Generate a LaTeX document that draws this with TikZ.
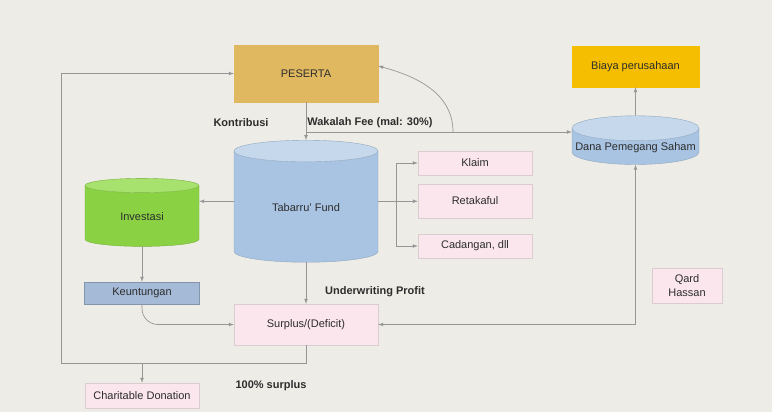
\documentclass[tikz,border=0pt]{standalone}
\usepackage{fontspec}
\setmainfont{Liberation Sans}
\usetikzlibrary{shapes.geometric,positioning}

\definecolor{kertas}{RGB}{238,236,230}
\definecolor{oranye}{RGB}{224,184,96}
\definecolor{kuning}{RGB}{246,190,0}
\definecolor{biru}{RGB}{168,196,226}
\definecolor{birumuda}{RGB}{198,216,236}
\definecolor{hijau}{RGB}{138,210,68}
\definecolor{hijaumuda}{RGB}{168,226,110}
\definecolor{baja}{RGB}{164,186,214}
\definecolor{merahmuda}{RGB}{250,230,236}
\definecolor{garis}{RGB}{150,150,150}
\definecolor{teks}{RGB}{45,45,45}

\begin{document}
\begin{tikzpicture}[x=1pt, y=-1pt, node distance=100pt,
    block/.style={rectangle, draw, text centered, inner sep=2pt, text=teks, font=\fontsize{11}{14}\selectfont, minimum width=144pt, minimum height=41pt},
    pink/.style={block, draw=merahmuda!75!gray, fill=merahmuda},
    tank/.style={cylinder, shape border rotate=90, aspect=0.3, draw, inner sep=2pt, text=teks, font=\fontsize{11}{14}\selectfont, cylinder uses custom fill},
    note/.style={font=\fontsize{11}{14}\selectfont\bfseries, text=teks},
    line/.style={draw=garis, line width=0.7pt, -latex}]

    \fill [kertas] (0,0) rectangle (772,412);

    \node [block, fill=oranye, draw=oranye, minimum height=57pt] (peserta) at (306,73.5) {PESERTA};
    \node [tank, below of=peserta, node distance=134.5pt, minimum width=144pt, minimum height=122pt, draw=biru!85!black, cylinder body fill=biru, cylinder end fill=birumuda] (tabarru) {Tabarru' Fund};
    \node [pink, below of=tabarru, node distance=116.5pt] (surplus) {Surplus/(Deficit)};
    \node [tank, left of=tabarru, node distance=164pt, yshift=-9pt, minimum width=114pt, minimum height=68pt, draw=hijau!85!black, cylinder body fill=hijau, cylinder end fill=hijaumuda] (investasi) {Investasi};
    \node [block, below of=investasi, node distance=76pt, fill=baja, draw=baja!80!black, minimum width=115pt, minimum height=22pt] (keuntungan) {Keuntungan};
    \node [pink, below of=keuntungan, node distance=102.5pt, minimum width=114pt, minimum height=25pt] (charitable) {Charitable Donation};
    \node [pink, right of=tabarru, node distance=169pt, yshift=7pt, minimum width=114pt, minimum height=34pt] (retakaful) {Retakaful};
    \node [pink, above of=retakaful, node distance=38pt, minimum width=114pt, minimum height=24pt] (klaim) {Klaim};
    \node [pink, below of=retakaful, node distance=45pt, minimum width=114pt, minimum height=24pt] (cadangan) {Cadangan, dll};
    \node [block, fill=kuning, draw=kuning, minimum width=127pt] (biaya) at (635.5,66.5) {Biaya perusahaan};
    \node [tank, below of=biaya, node distance=81.5pt, aspect=0.2, minimum width=127pt, minimum height=46pt, draw=biru!85!black, cylinder body fill=biru, cylinder end fill=birumuda] (dana) {Dana Pemegang Saham};
    \node [pink, align=center, minimum width=70pt, minimum height=35pt] (qard) at (687,285.5) {Qard\\Hassan};

    \node [note] (kontribusi) at (241,123) {Kontribusi};
    \node [note] (wakalah) at (370,123) {Wakalah Fee (mal: 30\%)};
    \node [note] (uwprofit) at (375,292) {Underwriting Profit};
    \node [note] (seratus) at (271,386) {100\% surplus};

    \coordinate (fee) at (453,132);
    \coordinate (loopbawah) at ([yshift=-18pt]surplus.south);
    \coordinate (kanan) at (tabarru.shape center -| tabarru.east);
    \coordinate (kiri) at (tabarru.shape center -| tabarru.west);
    \coordinate (cabang) at ([xshift=18pt]kanan);

    \path [line] (peserta) -- (tabarru);
    \path [line] (peserta.south |- fee) -- (fee -| dana.west);
    \path [line] (fee) to [out=90, in=-15] ([yshift=7.5pt]peserta.east);
    \path [line] (dana) -- (biaya);
    \path [line, latex-latex] (dana) |- (surplus);
    \path [line] (kanan) -- (kanan -| retakaful.west);
    \path [line] (cabang) |- (klaim);
    \path [line] (cabang) |- (cadangan);
    \path [line] (kiri) -- (kiri -| investasi.east);
    \path [line] (investasi) -- (keuntungan);
    \path [line, rounded corners=16pt] (keuntungan) |- (surplus);
    \path [line] (tabarru) -- (surplus);
    \path [line] (surplus.south) -- (loopbawah) -| ([xshift=-172pt]peserta.west) -- (peserta);
    \path [line] (loopbawah -| charitable) -- (charitable);
\end{tikzpicture}
\end{document}
